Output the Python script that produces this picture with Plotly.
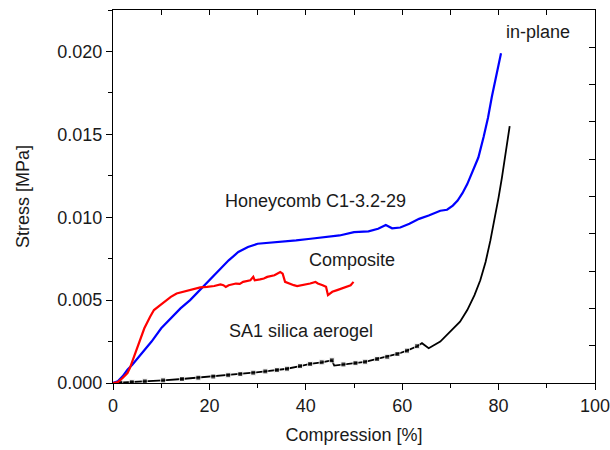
import plotly.graph_objects as go

# Honeycomb C1-3.2-29 (blue)
honey_x = [0, 1, 2, 3, 4, 6, 8, 10, 12, 14, 16, 18, 20, 22, 24, 26, 28, 30, 32, 35, 38, 41, 44, 47,
           50, 51.3, 53, 55, 56.6, 57.9, 59.6, 61.5, 63.5, 65.5, 67.9, 69.3, 70.5, 71.5, 72.5, 73.5,
           74.8, 75.8, 76.9, 77.8, 78.6, 79.6, 80.5]
honey_y = [0, 0.0001, 0.0004, 0.0008, 0.0011, 0.0018, 0.0025, 0.0033, 0.0039, 0.0045, 0.0050,
           0.0056, 0.0062, 0.0068, 0.0074, 0.0079, 0.0082, 0.0084, 0.00845, 0.0085, 0.0086, 0.0087,
           0.0088, 0.0089, 0.0091, 0.00912, 0.00915, 0.0093, 0.00953, 0.00933, 0.00938, 0.0096,
           0.0099, 0.0101, 0.01039, 0.01045, 0.0107, 0.0110, 0.01145, 0.0120, 0.01285, 0.0136,
           0.01486, 0.0160, 0.01727, 0.0187, 0.01989]

# Composite (red)
comp_x = [0, 1, 2, 3, 3.5, 4, 5, 5.6, 6.5, 7.7, 8.5, 9.8, 11, 12, 13.2, 14.5, 16, 17, 18.1, 19.5,
          21, 22.3, 22.9, 23.4, 24, 25.5, 26.3, 27, 28.5, 29.1, 29.4, 30.5, 31.3, 32, 33.5, 34.7,
          35.2, 35.7, 36.5, 37.5, 38.2, 39.2, 40.1, 40.9, 42, 42.5, 43.5, 44.2, 44.6, 45.5, 46.5,
          47.5, 48.5, 49.3, 49.9]
comp_y = [0, 0.00005, 0.0003, 0.0006, 0.0009, 0.0013, 0.0021, 0.0026, 0.0033, 0.0040, 0.0044,
          0.0047, 0.0050, 0.0052, 0.0054, 0.0055, 0.0056, 0.00565, 0.00577, 0.0058, 0.00585,
          0.00595, 0.0059, 0.0058, 0.0059, 0.0060, 0.00598, 0.0061, 0.0062, 0.0064, 0.0062, 0.00625,
          0.0063, 0.0064, 0.0065, 0.0067, 0.0066, 0.0061, 0.0060, 0.0059, 0.00585, 0.0059, 0.00595,
          0.0060, 0.0061, 0.0060, 0.0059, 0.0058, 0.0053, 0.0055, 0.0056, 0.0057, 0.0058, 0.0059,
          0.0061]

# SA1 silica aerogel (black)
aero_x = [0, 1.5, 3.9, 6.6, 10.4, 14.3, 17.7, 20.8, 23.9, 26.4, 29.1, 31.6, 34, 36.1, 38.8, 40.9,
          43.3, 45.4, 45.9, 47.8, 50.3, 52.3, 54.8, 56.9, 59, 61, 63.1, 64.1, 65.5, 67.9, 70, 72,
          73.5, 75, 76.2, 77.3, 78.3, 79.2, 80, 80.7, 81.4, 82.3]
aero_y = [0, 0.00002, 0.00005, 0.0001, 0.00016, 0.00024, 0.00032, 0.00039, 0.00047, 0.00054,
          0.00062, 0.0007, 0.00078, 0.00086, 0.00102, 0.00115, 0.00125, 0.00137, 0.00105, 0.00112,
          0.0012, 0.00128, 0.00145, 0.00158, 0.00175, 0.00195, 0.00222, 0.0024, 0.0021, 0.0025,
          0.0031, 0.0037, 0.0044, 0.0053, 0.0062, 0.0073, 0.0086, 0.0099, 0.0112, 0.0124, 0.0138,
          0.0155]

x_range = [0, 100]
y_range = [0, 0.0225]

FONT = "Arial, Liberation Sans, sans-serif"
TXT = "#1a1a1a"

aero_marker_sizes = [5 if (0 < x <= 63.2 and x != 45.9) else 0 for x in aero_x]

fig = go.Figure()
fig.add_trace(go.Scatter(x=aero_x, y=aero_y, mode="lines+markers",
                         line=dict(color="black", width=1.8),
                         marker=dict(symbol="square", size=aero_marker_sizes, color="black"),
                         showlegend=False))
fig.add_trace(go.Scatter(x=honey_x, y=honey_y, mode="lines",
                         line=dict(color="#0000ff", width=2.2), showlegend=False))
fig.add_trace(go.Scatter(x=comp_x, y=comp_y, mode="lines",
                         line=dict(color="#ff0000", width=2.2), showlegend=False))
# transparent trace to activate mirrored tick axes (top / right)
fig.add_trace(go.Scatter(x=[50], y=[0.01], xaxis="x2", yaxis="y2",
                         mode="markers", marker=dict(size=1, opacity=0),
                         showlegend=False, hoverinfo="skip"))

annots = [
    ("in-plane", 88.2, 0.0212),
    ("Honeycomb C1-3.2-29", 42.0, 0.01098),
    ("Composite", 49.6, 0.00742),
    ("SA1 silica aerogel", 39.1, 0.00315),
]
for text, ax, ay in annots:
    fig.add_annotation(x=ax, y=ay, text=text, showarrow=False, xref="x", yref="y",
                       font=dict(family=FONT, size=18, color=TXT))

fig.update_layout(
    width=610, height=450,
    margin=dict(l=113, r=15, t=10, b=67, autoexpand=False),
    paper_bgcolor="white", plot_bgcolor="white",
    font=dict(family=FONT, size=18, color=TXT),
    xaxis=dict(range=x_range, dtick=20, tick0=0, ticks="outside", ticklen=6, tickwidth=1,
               tickcolor="black", showline=True, linecolor="black", linewidth=1.2,
               showgrid=False, zeroline=False, mirror=True, ticklabeloverflow="allow",
               automargin=False,
               minor=dict(dtick=10, ticks="outside", ticklen=4, tickcolor="black", showgrid=False),
               title=dict(text="Compression [%]", font=dict(size=18), standoff=13),
               tickfont=dict(size=18)),
    yaxis=dict(range=y_range, dtick=0.005, tick0=0, tickformat=".3f", ticks="outside",
               ticklen=6, tickwidth=1, tickcolor="black", showline=True, linecolor="black",
               linewidth=1.2, showgrid=False, zeroline=False, mirror=True, automargin=False,
               minor=dict(dtick=0.0025, ticks="outside", ticklen=4, tickcolor="black", showgrid=False),
               title=dict(text="Stress [MPa]", font=dict(size=18), standoff=22),
               tickfont=dict(size=18)),
    xaxis2=dict(range=x_range, overlaying="x", side="top", dtick=10, tick0=0, ticks="inside",
                ticklen=5, tickwidth=1, tickcolor="black", showticklabels=False, showgrid=False,
                zeroline=False, showline=False, automargin=False),
    yaxis2=dict(range=y_range, overlaying="y", side="right", dtick=0.00225, tick0=0,
                ticks="inside", ticklen=6, tickwidth=1, tickcolor="black", showticklabels=False,
                showgrid=False, zeroline=False, showline=False, automargin=False),
)

fig.write_html("out.html")
